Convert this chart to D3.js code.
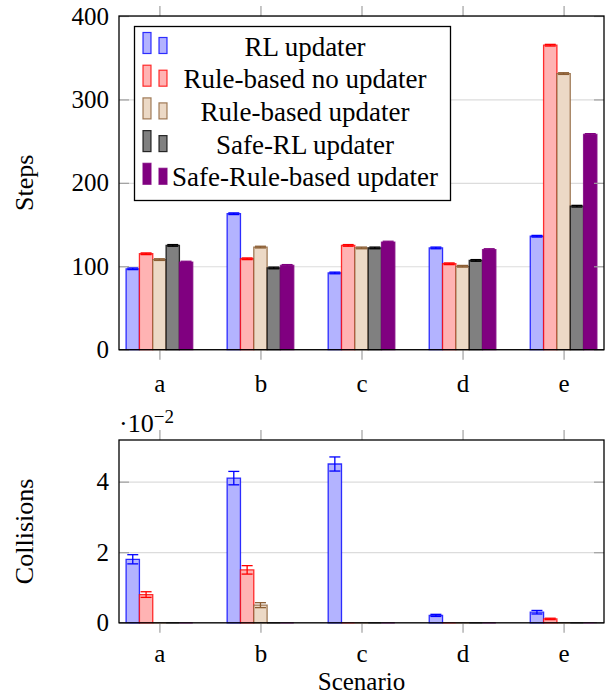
<!DOCTYPE html>
<html>
<head>
<meta charset="utf-8">
<script src="https://cdn.jsdelivr.net/npm/d3@7"></script>
<style>
  body { margin: 0; background: #fff; }
  svg text { font-family: "Liberation Serif", "Times New Roman", serif !important; fill: #000; }
</style>
</head>
<body>
<script>
// data
const scenarios = ["a", "b", "c", "d", "e"];
const seriesNames = ["RL updater", "Rule-based no updater", "Rule-based updater", "Safe-RL updater", "Safe-Rule-based updater"];

const stepsRL        = [97, 163, 92, 122, 136];
const stepsRuleNo    = [115, 109, 125, 103, 365];
const stepsRuleUpd   = [108, 123, 122, 100, 331];
const stepsSafeRL    = [125, 98, 122, 107, 172];
const stepsSafeRule  = [105, 101, 129, 120, 258];
const stepsErr       = [1, 1, 1, 1, 1];

const collRL         = [0.018, 0.041, 0.045, 0.0021, 0.003];
const collRuleNo     = [0.008, 0.015, 0, 0, 0.0011];
const collRuleUpd    = [0, 0.005, 0, 0, 0];
const collSafeRL     = [0, 0, 0, 0, 0];
const collSafeRule   = [0, 0, 0, 0, 0];
const collErrRL      = [0.0013, 0.0019, 0.002, 0.0003, 0.0005];
const collErrRuleNo  = [0.0008, 0.0012, 0, 0, 0.0002];
const collErrRuleUpd = [0, 0.0007, 0, 0, 0];

const stepsTicks = [0, 100, 200, 300, 400];
const collTicks  = [0, 0.02, 0.04];

const fills   = ["#b3b3ff", "#ffb3b3", "#ecd9c6", "#808080", "#800080"];
const strokes = ["#0000ff", "#ff0000", "#8b5e34", "#000000", "#800080"];

const stepsSeries = [stepsRL, stepsRuleNo, stepsRuleUpd, stepsSafeRL, stepsSafeRule];
const stepsErrs = [stepsErr, stepsErr, stepsErr, stepsErr, stepsErr];
const collSeries = [collRL, collRuleNo, collRuleUpd, collSafeRL, collSafeRule];
const collErrs = [collErrRL, collErrRuleNo, collErrRuleUpd, null, null];

const W = 605, H = 695;
const left = 119, right = 604;
const tickFont = 25, labelFont = 26, legendFont = 27;
const barW = 13.33;

let svg = d3.select("body").append("svg")
  .attr("width", W)
  .attr("height", H);

let x = d3.scalePoint().domain(scenarios).range([left, right]).padding(0.4);

function drawPanel(top, bottom, y, ticks, fmt, series, errs, xPad) {
  let g = svg.append("g");

  // grid
  g.append("g")
    .attr("transform", "translate(" + left + ",0)")
    .call(d3.axisLeft(y).tickValues(ticks).tickSize(-(right - left)).tickFormat(""))
    .call(a => a.select(".domain").remove())
    .selectAll("line").attr("stroke", "#dcdcdc").attr("stroke-width", 1.2);

  // bars
  series.forEach(function(vals, si) {
    let data = vals.map((v, i) => ({cat: scenarios[i], v: v, e: errs[si] ? errs[si][i] : 0}));
    g.selectAll(null)
      .data(data)
      .enter()
      .append("path")
      .attr("d", function(d) {
        let x0 = x(d.cat) + (si - 2.5) * barW;
        return "M" + x0 + "," + y(0) + "V" + y(d.v) + "H" + (x0 + barW) + "V" + y(0) + "Z";
      })
      .attr("fill", fills[si])
      .attr("stroke", strokes[si])
      .attr("stroke-opacity", 0.8)
      .attr("stroke-width", 1.3);

    let eb = data.filter(d => d.e > 0);
    let cap = 5.5;
    let eg = g.selectAll(null).data(eb).enter().append("g")
      .attr("stroke", strokes[si]).attr("stroke-width", 1.3);
    eg.append("line")
      .attr("x1", d => x(d.cat) + (si - 2) * barW).attr("x2", d => x(d.cat) + (si - 2) * barW)
      .attr("y1", d => y(d.v + d.e)).attr("y2", d => y(d.v - d.e));
    eg.append("line")
      .attr("x1", d => x(d.cat) + (si - 2) * barW - cap).attr("x2", d => x(d.cat) + (si - 2) * barW + cap)
      .attr("y1", d => y(d.v + d.e)).attr("y2", d => y(d.v + d.e));
    eg.append("line")
      .attr("x1", d => x(d.cat) + (si - 2) * barW - cap).attr("x2", d => x(d.cat) + (si - 2) * barW + cap)
      .attr("y1", d => y(d.v - d.e)).attr("y2", d => y(d.v - d.e));
  });

  // y ticks left + labels
  let ya = g.append("g")
    .attr("transform", "translate(" + left + ",0)")
    .call(d3.axisLeft(y).tickValues(ticks).tickSizeInner(-10).tickSizeOuter(0).tickPadding(10).tickFormat(fmt));
  ya.select(".domain").remove();
  ya.selectAll("line").attr("stroke", "#a0a0a0").attr("stroke-width", 1.2);
  ya.selectAll("text").style("font-size", tickFont + "px");

  // y ticks right
  let yr = g.append("g")
    .attr("transform", "translate(" + right + ",0)")
    .call(d3.axisRight(y).tickValues(ticks).tickSizeInner(-10).tickSizeOuter(0).tickFormat(""));
  yr.select(".domain").remove();
  yr.selectAll("line").attr("stroke", "#a0a0a0").attr("stroke-width", 1.2);

  // x ticks bottom
  let xb = g.append("g")
    .attr("transform", "translate(0," + bottom + ")")
    .call(d3.axisBottom(x).tickSizeInner(10).tickSizeOuter(0).tickPadding(xPad));
  xb.select(".domain").remove();
  xb.selectAll("line").attr("stroke", "#a0a0a0").attr("stroke-width", 1.2);
  xb.selectAll("text").style("font-size", tickFont + "px");

  // x ticks top
  let xt = g.append("g")
    .attr("transform", "translate(0," + top + ")")
    .call(d3.axisTop(x).tickSizeInner(10).tickSizeOuter(0).tickFormat(""));
  xt.select(".domain").remove();
  xt.selectAll("line").attr("stroke", "#a0a0a0").attr("stroke-width", 1.2);

  // frame
  g.append("rect")
    .attr("x", left).attr("y", top)
    .attr("width", right - left).attr("height", bottom - top)
    .attr("fill", "none").attr("stroke", "#000").attr("stroke-width", 1.3);

  return g;
}

// top panel: steps
let yTop = d3.scaleLinear().domain([0, 400]).range([349.7, 16]);
drawPanel(16, 349.7, yTop, stepsTicks, d3.format("d"), stepsSeries, stepsErrs, 15);

svg.append("text")
  .attr("transform", "translate(33," + (16 + 349.7) / 2 + ") rotate(-90)")
  .attr("text-anchor", "middle")
  .style("font-size", labelFont + "px")
  .text("Steps");

// legend
let lg = svg.append("g");
lg.append("rect")
  .attr("x", 134.5).attr("y", 26.5).attr("width", 316).attr("height", 174)
  .attr("fill", "#fff").attr("stroke", "#000").attr("stroke-width", 1.3);
seriesNames.forEach(function(name, i) {
  let cy = 47 + i * 32.7;
  lg.append("rect")
    .attr("x", 143).attr("y", cy - 14.5).attr("width", 8).attr("height", 21)
    .attr("fill", fills[i]).attr("stroke", strokes[i]).attr("stroke-opacity", 0.8).attr("stroke-width", 1.2);
  lg.append("rect")
    .attr("x", 159).attr("y", cy - 9.5).attr("width", 8).attr("height", 16)
    .attr("fill", fills[i]).attr("stroke", strokes[i]).attr("stroke-opacity", 0.8).attr("stroke-width", 1.2);
  lg.append("text")
    .attr("x", 305).attr("y", cy + 8.5)
    .attr("text-anchor", "middle")
    .style("font-size", legendFont + "px")
    .text(name);
});

// bottom panel: collisions
let yBot = d3.scaleLinear().domain([0, 0.0518]).range([622.8, 440]);
drawPanel(440, 622.8, yBot, collTicks, d => d3.format("d")(d * 100), collSeries, collErrs, 11);

svg.append("text")
  .attr("transform", "translate(33," + (440 + 622.8) / 2 + ") rotate(-90)")
  .attr("text-anchor", "middle")
  .style("font-size", labelFont + "px")
  .text("Collisions");

let sc = svg.append("text")
  .attr("x", 119).attr("y", 431.5)
  .style("font-size", labelFont + "px");
sc.append("tspan").text("·10");
sc.append("tspan").attr("dy", -9).style("font-size", "19px").text("−2");

svg.append("text")
  .attr("x", (left + right) / 2).attr("y", 689.5)
  .attr("text-anchor", "middle")
  .style("font-size", "25px")
  .text("Scenario");
</script>
</body>
</html>
